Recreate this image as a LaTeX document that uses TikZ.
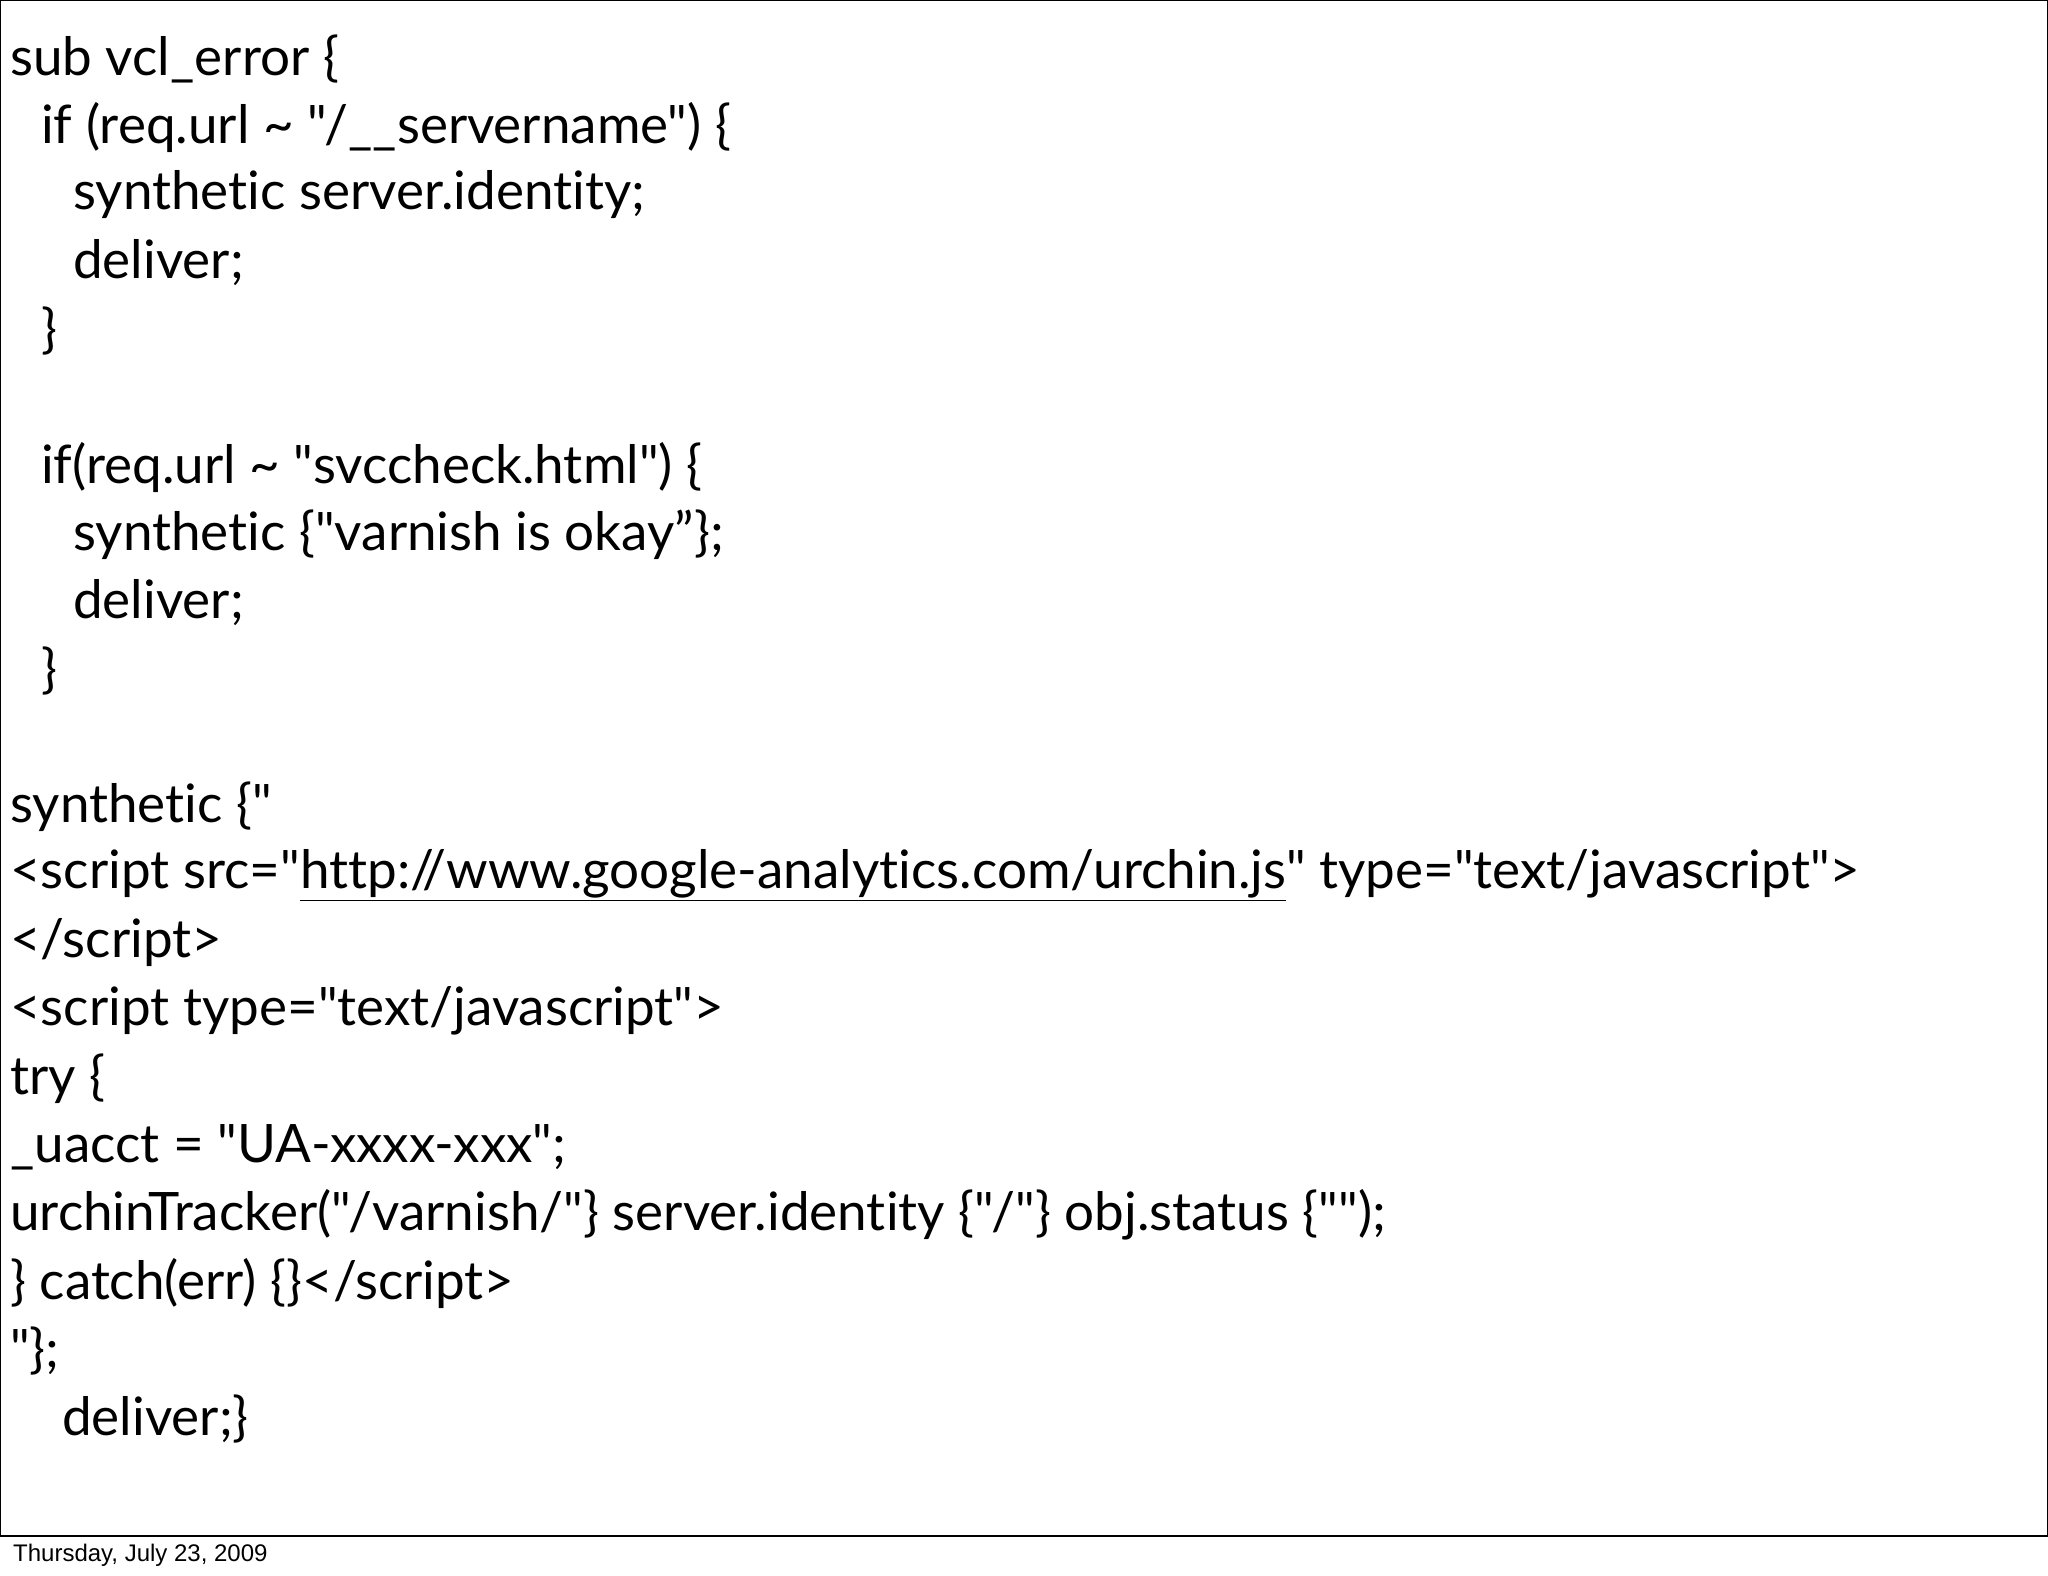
\documentclass[tikz,border=0pt]{standalone}
\usepackage{fontspec}
\setmainfont{Lato}[Ligatures={TeXOff,NoCommon}]
\newfontfamily\footfont{Liberation Sans}
\begin{document}
\begin{tikzpicture}[x=1pt,y=-1pt,
  code/.style={anchor=west,inner sep=0pt,font=\fontsize{53}{60}\selectfont},
  foot/.style={anchor=west,inner sep=0pt,font=\footfont\fontsize{24}{28}\selectfont}]
\useasboundingbox (0,0) rectangle (2048,1576);
\draw[line width=1.2pt] (0.6,0.6) rectangle (2047.4,1536);
\def\lh{68}
\node[code] (l1) at (10,59) {sub vcl\_error \{};
\node[code] (l2) at (41,59+\lh) {if (req.url \textasciitilde\ "/\_\_servername") \{};
\node[code] (l3) at (73,59+2*\lh) {synthetic server.identity;};
\node[code] (l4) at (73,59+3*\lh) {deliver;};
\node[code] (l5) at (41,59+4*\lh) {\}};
\node[code] (l6) at (41,59+6*\lh) {if(req.url \textasciitilde\ "svccheck.html") \{};
\node[code] (l7) at (73,59+7*\lh) {synthetic \{"varnish is okay”\};};
\node[code] (l8) at (73,59+8*\lh) {deliver;};
\node[code] (l9) at (41,59+9*\lh) {\}};
\node[code] (l10) at (10,59+11*\lh) {synthetic \{"};
\node[code] (l11) at (10,59+12*\lh) {<script src="\underline{http://www.google-analytics.com/urchin.js}" type="text/javascript">};
\node[code] (l12) at (10,59+13*\lh) {</script>};
\node[code] (l13) at (10,59+14*\lh) {<script type="text/javascript">};
\node[code] (l14) at (10,59+15*\lh) {try \{};
\node[code] (l15) at (10,59+16*\lh) {\_uacct = "UA-xxxx-xxx";};
\node[code] (l16) at (10,59+17*\lh) {urchinTracker("/varnish/"\} server.identity \{"/"\} obj.status \{"");};
\node[code] (l17) at (10,59+18*\lh) {\} catch(err) \{\}</script>};
\node[code] (l18) at (10,59+19*\lh) {"\};};
\node[code] (l19) at (62,59+20*\lh) {deliver;\}};
\node[foot] (f) at (13,1555) {Thursday, July 23, 2009};
\end{tikzpicture}
\end{document}
